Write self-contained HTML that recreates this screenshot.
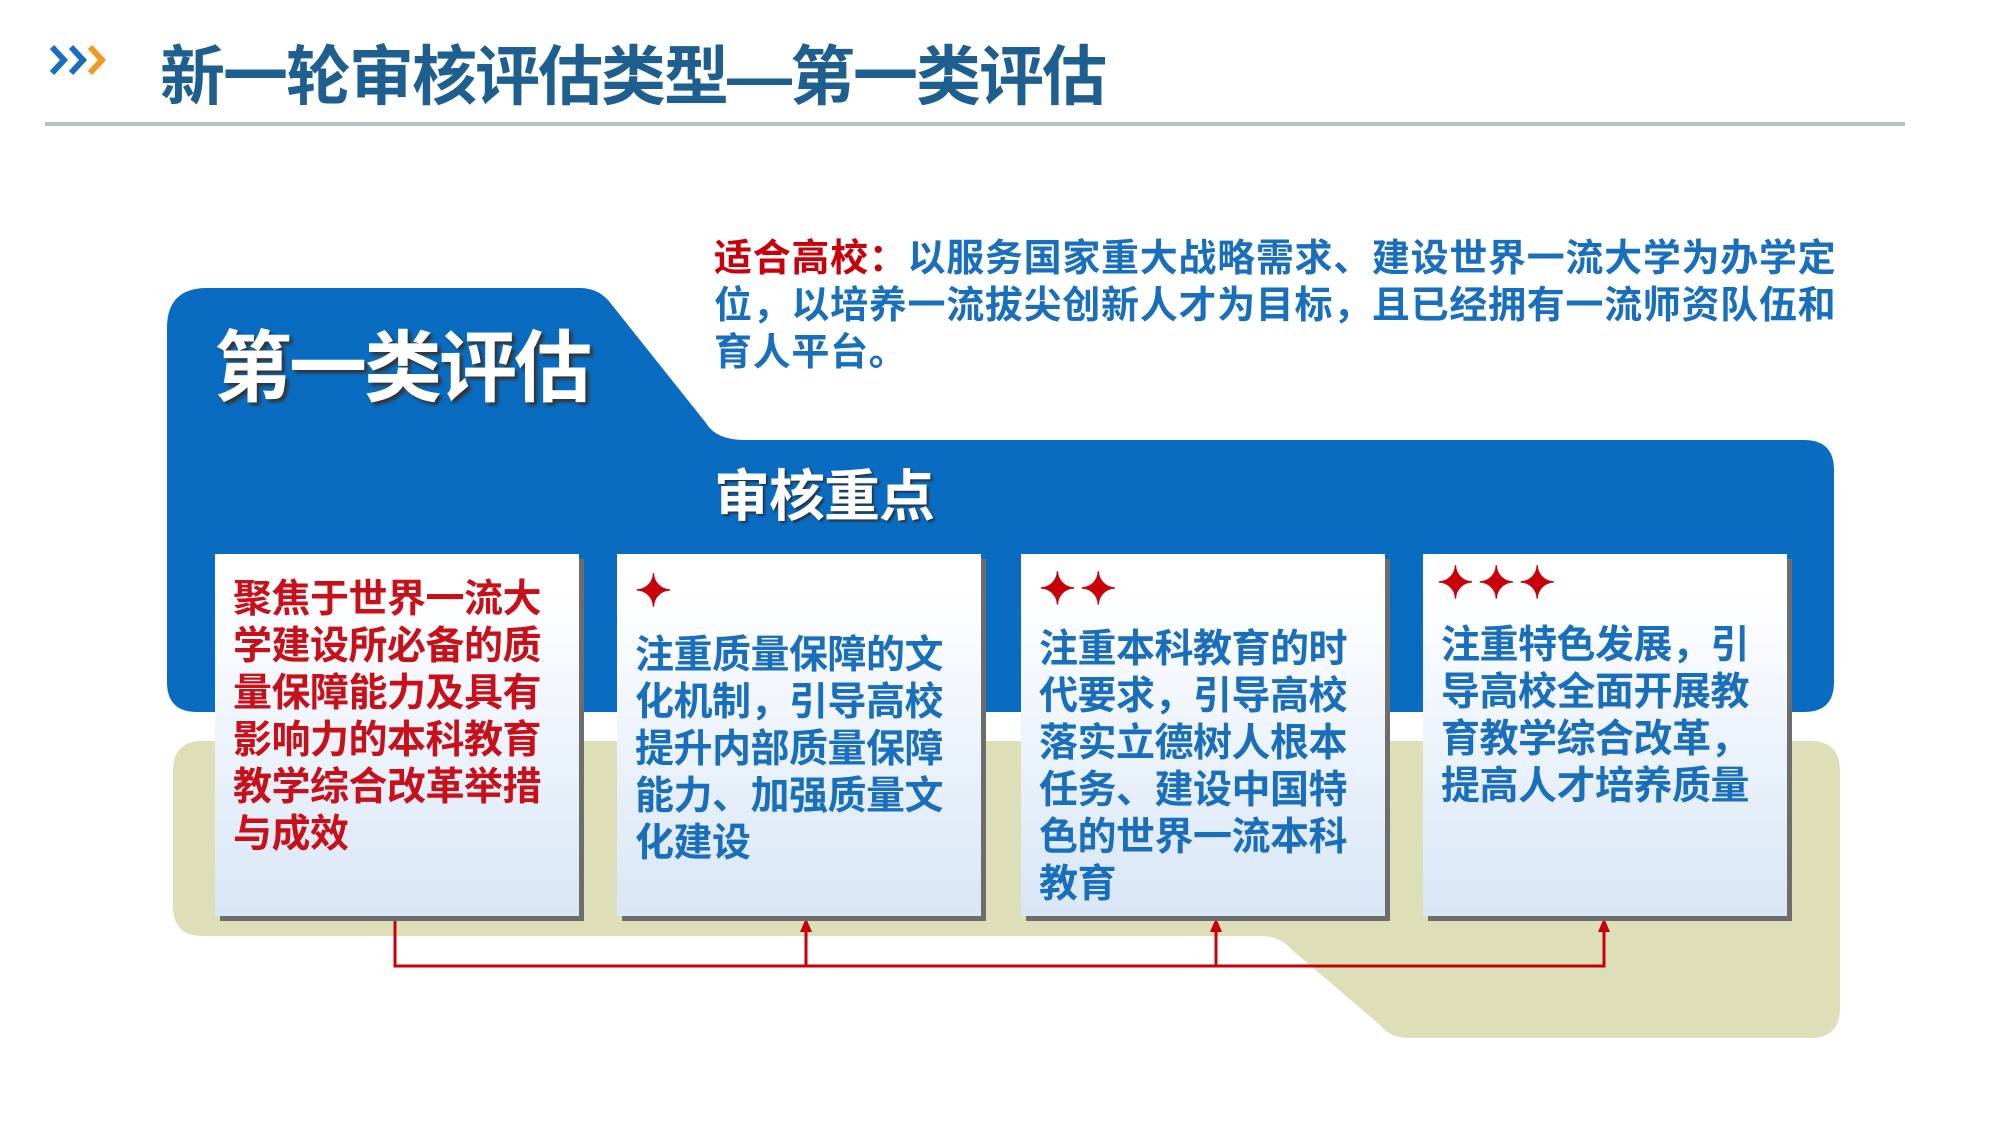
<!DOCTYPE html>
<html><head><meta charset="utf-8"><style>
body{margin:0;width:2000px;height:1124px;background:#fff;position:relative;overflow:hidden;font-family:"Liberation Sans","Noto Sans CJK SC",sans-serif;font-weight:bold}
.abs{position:absolute}
.box{position:absolute;top:554px;width:364px;height:362px;background:linear-gradient(#ffffff 10%,#d8e6f6);box-shadow:5px 5px 0 #6d6d6d}
.bt{position:absolute;left:18px;width:334px;font-size:39px;line-height:47px;letter-spacing:-0.5px;color:#1a6fbd}
</style></head><body>
<svg class="abs" style="left:0;top:0" width="2000" height="1124">
<polyline points="52,47 64,60 52,73" fill="none" stroke="#1a6fbd" stroke-width="6"/>
<polyline points="71,47 83,60 71,73" fill="none" stroke="#1a6fbd" stroke-width="6"/>
<polyline points="90,47 102,60 90,73" fill="none" stroke="#f39a1e" stroke-width="6"/>
<rect x="45" y="122" width="1860" height="4" fill="#b8bfc8"/>
<path d="M173,771 Q173,741 203,741 L1810,741 Q1840,741 1840,771 L1840,1008 Q1840,1038 1810,1038 L1410,1038 Q1390,1038 1380,1025 L1290,948 Q1280,936 1260,936 L203,936 Q173,936 173,906 Z" fill="#dcdfb8"/>
<path d="M167,328 Q167,288 207,288 L580,288 Q600,288 612,305 L706,423 Q716,440 745,440 L1804,440 Q1834,440 1834,470 L1834,682 Q1834,712 1804,712 L197,712 Q167,712 167,682 Z" fill="#0a6cc0"/>
<g stroke="#c8000a" stroke-width="3" fill="none">
<polyline points="395,919 395,966 1604,966 1604,925"/>
<line x1="806" y1="966" x2="806" y2="925"/>
<line x1="1216" y1="966" x2="1216" y2="925"/>
</g>
<g fill="#c8000a">
<polygon points="806,918 800,932 812,932"/>
<polygon points="1216,918 1210,932 1222,932"/>
<polygon points="1604,918 1598,932 1610,932"/>
</g>
</svg>
<div class="abs" style="left:160px;top:24px;font-size:65px;color:#1f5f8f;letter-spacing:-2px;white-space:nowrap">新一轮审核评估类型—第一类评估</div>
<div class="abs" style="left:214px;top:306px;font-size:78px;color:#fff;letter-spacing:-3px;text-shadow:3px 3px 3px #333;white-space:nowrap">第一类评估</div>
<div class="abs" style="left:714px;top:452px;font-size:56px;color:#fff;letter-spacing:-1px;text-shadow:2px 2px 2px #234;white-space:nowrap">审核重点</div>
<div class="abs" style="left:714px;top:236px;width:1180px;font-size:38px;line-height:47px;letter-spacing:0.7px;color:#1a6fbd;white-space:nowrap"><span style="color:#c8000a">适合高校：</span>以服务国家重大战略需求、建设世界一流大学为办学定<br>位，以培养一流拔尖创新人才为目标，且已经拥有一流师资队伍和<br>育人平台。</div>
<div class="box" style="left:215px"><div class="bt" style="top:22px;color:#c8101a">聚焦于世界一流大学建设所必备的质量保障能力及具有影响力的本科教育教学综合改革举措与成效</div></div>
<div class="box" style="left:617px"><div class="abs" style="left:18px;top:12px;font-size:44px;color:#c8000a">✦</div><div class="bt" style="top:78px">注重质量保障的文化机制，引导高校提升内部质量保障能力、加强质量文化建设</div></div>
<div class="box" style="left:1021px"><div class="abs" style="left:18px;top:10px;font-size:44px;color:#c8000a;letter-spacing:4px">✦✦</div><div class="bt" style="top:72px">注重本科教育的时代要求，引导高校落实立德树人根本任务、建设中国特色的世界一流本科教育</div></div>
<div class="box" style="left:1423px"><div class="abs" style="left:14px;top:4px;font-size:44px;color:#c8000a;letter-spacing:4px">✦✦✦</div><div class="bt" style="top:68px">注重特色发展，引导高校全面开展教育教学综合改革，提高人才培养质量</div></div>
</body></html>
